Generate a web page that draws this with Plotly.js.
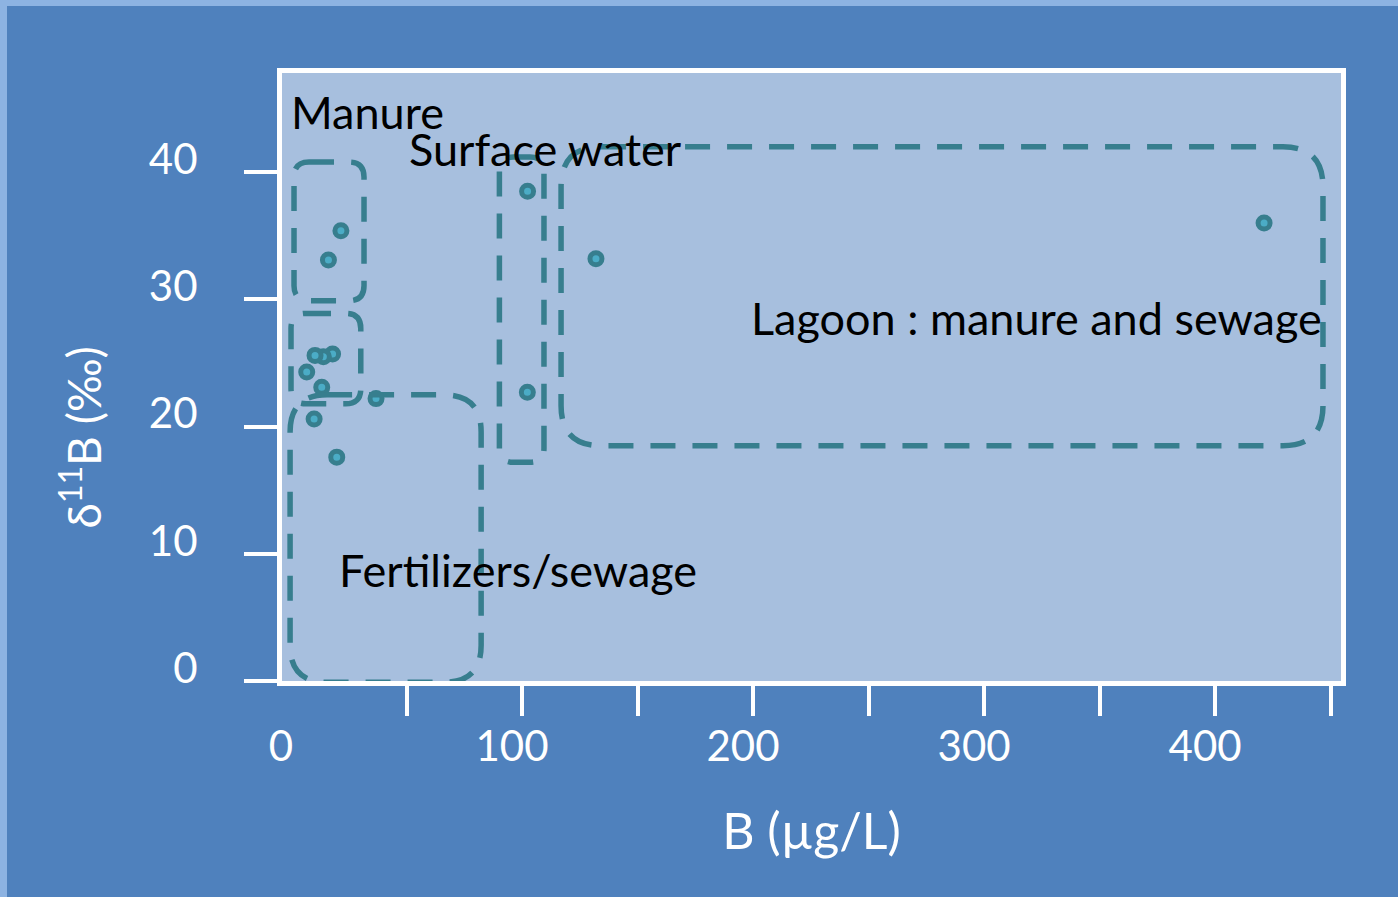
<!DOCTYPE html>
<html>
<head>
<meta charset="utf-8">
<script src="https://cdn.plot.ly/plotly-3.0.1.min.js"></script>
<style>
  html, body { margin: 0; padding: 0; background: #8db3e2; width: 1398px; height: 897px; overflow: hidden; }
  #chart { position: absolute; left: 7px; top: 6px; width: 1391px; height: 891px; }
</style>
</head>
<body>
<div id="chart"></div>
<script>
// ---- data ----
const boronConc = [21.6, 16.2, 102.4, 132.0, 18.0, 14.0, 10.4, 6.8, 13.3, 36.8, 102.3, 10.0, 19.8, 421.2];
const delta11B  = [35.4, 33.1, 38.5, 33.2, 25.7, 25.5, 25.6, 24.3, 23.1, 22.2, 22.7, 20.6, 17.6, 36.0];

const xTickVals   = [50, 100, 150, 200, 250, 300, 350, 400, 450];
const xLabelVals  = [0, 100, 200, 300, 400];
const xLabelText  = ['0', '100', '200', '300', '400'];
const yTickVals   = [0, 10, 20, 30, 40];
const yTickText   = ['0', '10', '20', '30', '40'];

// group regions (dashed outlines): [x0, x1, y0, y1]
const regionNames  = ['Manure', 'Manure (lower)', 'Fertilizers/sewage', 'Surface water', 'Lagoon'];
const regionX0     = [1.3, 0.0, -0.4, 90.2, 116.9];
const regionX1     = [31.6, 30.2, 82.3, 109.5, 446.7];
const regionY0     = [29.9, 21.8, -0.1, 17.2, 18.5];
const regionY1     = [40.8, 28.9, 22.5, 41.2, 42.0];

// region labels
const labelText = ['Manure', 'Surface water', 'Lagoon : manure and sewage', 'Fertilizers/sewage'];
const labelX    = [-1.0, 50.0, 198.2, 19.8];
const labelY    = [44.7, 41.8, 28.5, 8.7];

// ---- layout geometry / styles ----
const W = 1391, H = 891;
const M = {l: 275, r: 57, t: 67, b: 216};
const xRange = [-3.9, 454.5];
const yRange = [0, 47.8];
const pxPerX = (W - M.l - M.r) / (xRange[1] - xRange[0]);
const pxPerY = (H - M.t - M.b) / (yRange[1] - yRange[0]);
const cornerPx = [15, 15, 37, 14, 40];

const lineColor = '#377e8e';
const font = 'Lato, "Open Sans", sans-serif';

function roundedRect(x0, x1, y0, y1, r) {
  const rx = r / pxPerX, ry = r / pxPerY;
  return 'M' + (x0 + rx) + ',' + y1 +
    ' L' + (x1 - rx) + ',' + y1 +
    ' Q' + x1 + ',' + y1 + ' ' + x1 + ',' + (y1 - ry) +
    ' L' + x1 + ',' + (y0 + ry) +
    ' Q' + x1 + ',' + y0 + ' ' + (x1 - rx) + ',' + y0 +
    ' L' + (x0 + rx) + ',' + y0 +
    ' Q' + x0 + ',' + y0 + ' ' + x0 + ',' + (y0 + ry) +
    ' L' + x0 + ',' + (y1 - ry) +
    ' Q' + x0 + ',' + y1 + ' ' + (x0 + rx) + ',' + y1 + ' Z';
}

const shapes = regionNames.map((n, i) => ({
  type: 'path', xref: 'x', yref: 'y',
  path: roundedRect(regionX0[i], regionX1[i], regionY0[i], regionY1[i], cornerPx[i]),
  line: {color: lineColor, width: 5.5, dash: '25px,17px'},
  fillcolor: 'rgba(0,0,0,0)', layer: 'above'
}));

const annotations = labelText.map((t, i) => ({
  text: t, x: labelX[i], y: labelY[i], xref: 'x', yref: 'y',
  xanchor: 'left', yanchor: 'middle', showarrow: false,
  font: {family: font, size: 45, color: '#000000'}
}));
annotations.push({
  text: 'δ<sup>11</sup>B (‰)', xref: 'paper', yref: 'paper',
  x: -0.19, y: 0.40, xanchor: 'center', yanchor: 'middle', textangle: -90,
  showarrow: false, font: {family: font, size: 46, color: '#ffffff'}
});

const trace = {
  type: 'scatter', mode: 'markers', x: boronConc, y: delta11B,
  marker: {symbol: 'circle', size: 12, color: '#4bacc6', line: {color: lineColor, width: 5}},
  showlegend: false, hoverinfo: 'x+y', cliponaxis: false
};

const layout = {
  width: W, height: H, margin: M,
  paper_bgcolor: '#4f81bd', plot_bgcolor: '#a7bfde',
  showlegend: false,
  xaxis: {
    range: xRange, tickmode: 'array', tickvals: xTickVals, showticklabels: false,
    ticks: 'outside', ticklen: 30, tickwidth: 4, tickcolor: '#ffffff',
    showline: true, linecolor: '#ffffff', linewidth: 5, mirror: true,
    showgrid: false, zeroline: false,
    title: {text: 'B (µg/L)', standoff: 100, font: {family: font, size: 50, color: '#ffffff'}}
  },
  xaxis2: {
    overlaying: 'x', anchor: 'y', side: 'bottom', range: xRange,
    tickmode: 'array', tickvals: xLabelVals, ticktext: xLabelText,
    ticks: '', showline: false, showgrid: false, zeroline: false,
    ticklabelstandoff: 37, ticklabelshift: -10,
    tickfont: {family: font, size: 42, color: '#ffffff'}
  },
  yaxis: {
    range: yRange, tickmode: 'array', tickvals: yTickVals, ticktext: yTickText,
    ticks: 'outside', ticklen: 33, tickwidth: 4, tickcolor: '#ffffff',
    showline: true, linecolor: '#ffffff', linewidth: 5, mirror: true,
    showgrid: false, zeroline: false,
    ticklabelstandoff: 38, ticklabelshift: -13,
    tickfont: {family: font, size: 42, color: '#ffffff'}
  },
  shapes: shapes,
  annotations: annotations
};

const dummy = {type: 'scatter', mode: 'markers', x: [], y: [], xaxis: 'x2', yaxis: 'y', showlegend: false, hoverinfo: 'skip'};

Plotly.newPlot('chart', [trace, dummy], layout, {displayModeBar: false, staticPlot: true});
</script>
</body>
</html>
